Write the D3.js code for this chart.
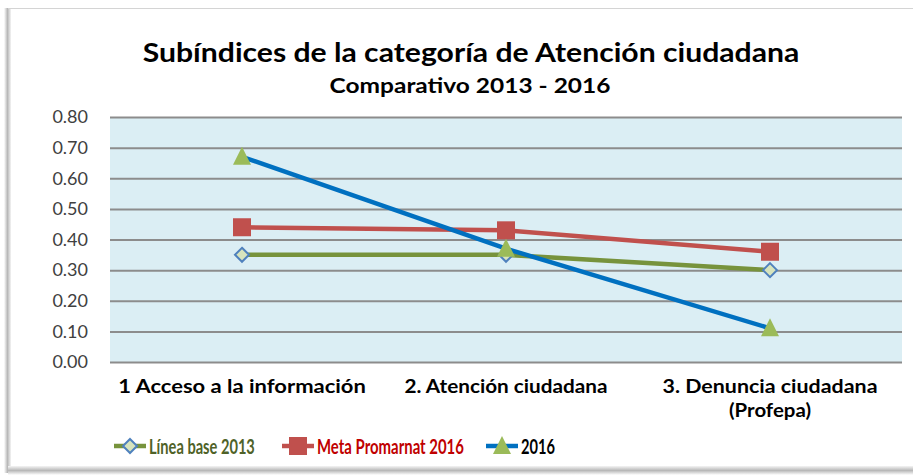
<!DOCTYPE html>
<html>
<head>
<meta charset="utf-8">
<script src="https://cdn.jsdelivr.net/npm/d3@7"></script>
<style>
  body { margin: 0; background: #fff; }
  svg { display: block; font-family: Lato, "Open Sans", sans-serif; }
</style>
</head>
<body>
<div id="chart"></div>
<script>
// data
var categories = ["1 Acceso a la información", "2. Atención ciudadana", "3. Denuncia ciudadana"];
var categoryExtra = ["", "", "(Profepa)"];
var lineaBase = [0.35, 0.35, 0.30];
var metaPromarnat = [0.44, 0.43, 0.36];
var valores2016 = [0.67, 0.37, 0.11];
var yTicks = [0, 0.1, 0.2, 0.3, 0.4, 0.5, 0.6, 0.7, 0.8];
var seriesNames = ["Línea base 2013", "Meta Promarnat 2016", "2016"];

const width = 913, height = 476;
const plot = {left: 110, right: 902, top: 117, bottom: 362};

const svg = d3.select("#chart").append("svg")
  .attr("width", width)
  .attr("height", height);

// frame with soft shadow
const defs = svg.append("defs");
const gl = defs.append("linearGradient").attr("id", "shL").attr("x1", 0).attr("x2", 1);
gl.append("stop").attr("offset", 0).attr("stop-color", "#ffffff");
gl.append("stop").attr("offset", 0.5).attr("stop-color", "#b8b8b8");
gl.append("stop").attr("offset", 1).attr("stop-color", "#f4f4f4");
const gb = defs.append("linearGradient").attr("id", "shB").attr("x1", 0).attr("x2", 0).attr("y1", 0).attr("y2", 1);
gb.append("stop").attr("offset", 0).attr("stop-color", "#f4f4f4");
gb.append("stop").attr("offset", 0.5).attr("stop-color", "#b8b8b8");
gb.append("stop").attr("offset", 1).attr("stop-color", "#ffffff");

svg.append("rect").attr("x", 4).attr("y", 8).attr("width", 7).attr("height", 465).attr("fill", "url(#shL)");
svg.append("rect").attr("x", 8).attr("y", 466).attr("width", 905).attr("height", 9).attr("fill", "url(#shB)");
svg.append("line").attr("x1", 8).attr("x2", 913).attr("y1", 8.5).attr("y2", 8.5)
  .attr("stroke", "#d4d4d4").attr("stroke-width", 1);

// squeeze a text horizontally to a given width (Calibri is narrower than Lato)
function fitText(sel, px, py, w) {
  sel.each(function() {
    const len = this.getComputedTextLength();
    const sx = len > 0 ? w / len : 1;
    d3.select(this)
      .attr("x", 0).attr("y", 0)
      .attr("transform", "translate(" + px + "," + py + ") scale(" + sx + ",1)");
  });
  return sel;
}

// titles
fitText(svg.append("text")
  .attr("text-anchor", "middle")
  .attr("font-size", 26).attr("font-weight", "bold").attr("fill", "#000")
  .text("Subíndices de la categoría de Atención ciudadana"), 471, 62, 657);
fitText(svg.append("text")
  .attr("text-anchor", "middle")
  .attr("font-size", 20).attr("font-weight", "bold").attr("fill", "#000")
  .text("Comparativo  2013 - 2016"), 470, 93, 281);

// scales
const x = d3.scaleBand().domain(categories).range([plot.left, plot.right]);
const y = d3.scaleLinear().domain([0, 0.8]).range([plot.bottom, plot.top]);
const cx = d => x(d) + x.bandwidth() / 2;

svg.append("rect")
  .attr("x", plot.left).attr("y", plot.top)
  .attr("width", plot.right - plot.left).attr("height", plot.bottom - plot.top)
  .attr("fill", "#dbeef4");

const yAxis = d3.axisLeft(y).tickValues(yTicks)
  .tickSize(-(plot.right - plot.left))
  .tickPadding(22)
  .tickFormat(d3.format(".2f"));
const yAxisGroup = svg.append("g")
  .attr("transform", "translate(" + plot.left + ",0)")
  .call(yAxis);
yAxisGroup.select(".domain").remove();
yAxisGroup.selectAll("line").attr("stroke", "#8c8c8c").attr("stroke-width", 2);
yAxisGroup.selectAll("text")
  .attr("font-size", 18).attr("fill", "#404040")
  .attr("font-family", "Lato, sans-serif");

// category labels
const catW = [248, 203, 215];
const xLab = svg.append("g");
categories.forEach(function(c, i) {
  fitText(xLab.append("text")
    .attr("text-anchor", "middle")
    .attr("font-size", 18.5).attr("font-weight", "bold").attr("fill", "#000")
    .text(c), cx(c), 393, catW[i]);
  if (categoryExtra[i]) {
    fitText(xLab.append("text")
      .attr("text-anchor", "middle")
      .attr("font-size", 18.5).attr("font-weight", "bold").attr("fill", "#000")
      .text(categoryExtra[i]), cx(c), 417, 82);
  }
});

// series
const series = [
  {name: seriesNames[0], values: lineaBase, line: "#77933c", marker: "diamond", fill: "#d7e4bd", stroke: "#4f81bd", text: "#4f6228"},
  {name: seriesNames[1], values: metaPromarnat, line: "#c0504d", marker: "square", fill: "#c0504d", stroke: "#c0504d", text: "#c00000"},
  {name: seriesNames[2], values: valores2016, line: "#0070c0", marker: "triangle", fill: "#9bbb59", stroke: "#9bbb59", text: "#000000"}
];

const lineGen = d3.line().x(d => cx(d.cat)).y(d => y(d.v));

function drawMarker(g, type, px, py, s) {
  if (type === "diamond") {
    g.append("path")
      .attr("d", "M0,-7L7,0L0,7L-7,0Z")
      .attr("transform", "translate(" + px + "," + py + ")")
      .attr("fill", s.fill).attr("stroke", s.stroke).attr("stroke-width", 2);
  } else if (type === "square") {
    g.append("rect")
      .attr("x", px - 9).attr("y", py - 9).attr("width", 18).attr("height", 18)
      .attr("fill", s.fill);
  } else {
    g.append("path")
      .attr("d", "M0,-10L9,8L-9,8Z")
      .attr("transform", "translate(" + px + "," + py + ")")
      .attr("fill", s.fill);
  }
}

series.forEach(function(s) {
  const pts = categories.map((c, i) => ({cat: c, v: s.values[i]}));
  svg.append("path")
    .datum(pts)
    .attr("d", lineGen)
    .attr("fill", "none")
    .attr("stroke", s.line)
    .attr("stroke-width", 4.5);
});
series.forEach(function(s) {
  const g = svg.append("g");
  categories.forEach(function(c, i) {
    drawMarker(g, s.marker, cx(c), y(s.values[i]), s);
  });
});

// legend
const legendX = [114, 282, 486];
const legendTextW = [106, 147, 34];
series.forEach(function(s, i) {
  const g = svg.append("g").attr("transform", "translate(" + legendX[i] + ",446)");
  g.append("line").attr("x1", 0).attr("x2", 32).attr("y1", 0).attr("y2", 0)
    .attr("stroke", s.line).attr("stroke-width", 4.5);
  drawMarker(g, s.marker, 16, 0, s);
  fitText(g.append("text")
    .attr("font-size", 21.5).attr("font-weight", "bold").attr("fill", s.text)
    .text(s.name), 35, 7.5, legendTextW[i]);
});
</script>
</body>
</html>
